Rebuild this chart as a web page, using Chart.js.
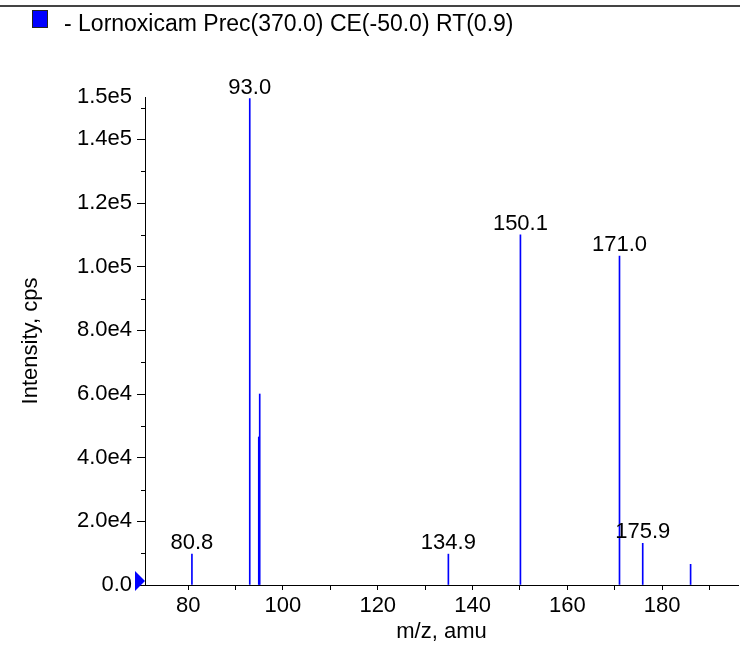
<!DOCTYPE html>
<html>
<head>
<meta charset="utf-8">
<script src="https://cdn.jsdelivr.net/npm/chart.js@4.4.1/dist/chart.umd.min.js"></script>
<style>
  html, body { margin: 0; padding: 0; background: #fff; }
  #wrap { position: relative; width: 740px; height: 647px; overflow: hidden; }
  #topRule { position: absolute; left: 0; top: 5px; width: 740px; height: 0; border-top: 2px solid #444; }
  #legend { position: absolute; left: 32px; top: 9px; height: 28px; display: flex; align-items: center;
            font: 23px "Liberation Sans", Arial, sans-serif; color: #000; white-space: nowrap; }
  #legend .box { display: inline-block; width: 14px; height: 16px; background: #0000ff; border: 1px solid #222;
                 margin-right: 16px; margin-top: -8px; }
  canvas { position: absolute; left: 0; top: 0; }
</style>
</head>
<body>
<div id="wrap">
  <canvas id="myChart" width="740" height="647"></canvas>
  <div id="topRule"></div>
  <div id="legend"><span class="box"></span><span id="legendText"></span></div>
</div>
<script>
const seriesName = "- Lornoxicam Prec(370.0) CE(-50.0) RT(0.9)";

// Peaks: m/z and intensity (cps)
const mzValues = [80.8, 93.0, 94.9, 95.1, 134.9, 150.1, 171.0, 175.9, 186.0];
const intensities = [9700, 152800, 46500, 60000, 9700, 110000, 103300, 13100, 6500];
// Peaks that carry an m/z label
const labelledPeaks = [80.8, 93.0, 134.9, 150.1, 171.0, 175.9];

// Axis ticks
const xTicks = [80, 90, 100, 110, 120, 130, 140, 150, 160, 170, 180, 190];
const xTickLabels = ["80", "", "100", "", "120", "", "140", "", "160", "", "180", ""];
const yTicks = [0, 20000, 40000, 60000, 80000, 100000, 120000, 140000];
const yMinorTicks = [10000, 30000, 50000, 70000, 90000, 110000, 130000, 150000];
const yTopLabel = "1.5e5";

const xMin = 70.9;
const xMax = 196.0;
const yMax = 153300;

const FONT = '"Liberation Sans", Arial, Helvetica, sans-serif';

document.getElementById("legendText").textContent = seriesName;

function formatIntensity(v) {
    if (v === 0) return "0.0";
    return v.toExponential(1).replace("e+", "e");
}

// Draws the minor y ticks, the peak labels and the blue marker at the origin.
const peakMarks = {
    id: 'peakMarks',
    afterDatasetsDraw(chart) {
        const ctx = chart.ctx;
        const x = chart.scales.x;
        const y = chart.scales.y;
        ctx.save();

        ctx.strokeStyle = '#000';
        ctx.lineWidth = 1;
        yMinorTicks.forEach(function(v) {
            let py = Math.round(y.getPixelForValue(v)) + 0.5;
            ctx.beginPath();
            ctx.moveTo(x.left - 4, py);
            ctx.lineTo(x.left, py);
            ctx.stroke();
        });

        ctx.font = '22px ' + FONT;
        ctx.fillStyle = '#000';
        ctx.textAlign = 'center';
        ctx.textBaseline = 'alphabetic';
        for (let i = 0; i < mzValues.length; i++) {
            if (!labelledPeaks.includes(mzValues[i])) continue;
            ctx.fillText(mzValues[i].toFixed(1),
                         x.getPixelForValue(mzValues[i]),
                         y.getPixelForValue(intensities[i]) - 5);
        }

        let oy = y.getPixelForValue(0) - 4;
        ctx.fillStyle = '#0000ff';
        ctx.beginPath();
        ctx.moveTo(x.left, oy);
        ctx.lineTo(x.left - 10, oy - 10);
        ctx.lineTo(x.left - 10, oy + 10);
        ctx.closePath();
        ctx.fill();

        ctx.restore();
    }
};

let points = [];
for (let i = 0; i < mzValues.length; i++) {
    points.push({x: mzValues[i], y: intensities[i]});
}

const config = {
    type: 'bar',
    data: {
        datasets: [{
            label: seriesName,
            data: points,
            backgroundColor: '#0000ff',
            borderWidth: 0,
            barThickness: 1
        }]
    },
    options: {
        responsive: false,
        animation: false,
        layout: { padding: { top: 97, right: 2, left: 0, bottom: 0 } },
        plugins: {
            legend: { display: false },
            tooltip: { enabled: false }
        },
        scales: {
            x: {
                type: 'linear',
                min: xMin,
                max: xMax,
                offset: false,
                afterBuildTicks: function(scale) {
                    scale.ticks = xTicks.map(function(v) { return {value: v}; });
                },
                afterFit: function(scale) { scale.height = 62; },
                grid: { display: true, drawOnChartArea: false, offset: false, tickLength: 5, color: '#000' },
                border: { display: true, color: '#000', width: 1 },
                ticks: {
                    autoSkip: false,
                    maxRotation: 0,
                    padding: 3,
                    color: '#000',
                    font: { size: 22, family: FONT },
                    callback: function(v, i) { return xTickLabels[i]; }
                },
                title: {
                    display: true,
                    text: 'm/z, amu',
                    color: '#000',
                    font: { size: 22, family: FONT },
                    padding: { top: 0, bottom: 2 }
                }
            },
            y: {
                type: 'linear',
                min: 0,
                max: yMax,
                afterBuildTicks: function(scale) {
                    scale.ticks = yTicks.concat([yMax]).map(function(v) { return {value: v}; });
                },
                afterFit: function(scale) { scale.width = 145; },
                grid: {
                    display: true,
                    drawOnChartArea: false,
                    tickLength: 8,
                    color: '#000',
                    tickColor: function(c) {
                        return (c.tick && c.tick.value === yMax) ? 'rgba(0,0,0,0)' : '#000';
                    }
                },
                border: { display: true, color: '#000', width: 1 },
                ticks: {
                    autoSkip: false,
                    padding: 5,
                    color: '#000',
                    font: { size: 22, family: FONT },
                    callback: function(v) { return v === yMax ? yTopLabel : formatIntensity(v); }
                },
                title: {
                    display: true,
                    text: 'Intensity, cps',
                    color: '#000',
                    font: { size: 22, family: FONT },
                    padding: { top: 18, bottom: 0 }
                }
            }
        }
    },
    plugins: [peakMarks]
};

const myChart = new Chart(document.getElementById("myChart"), config);
</script>
</body>
</html>
